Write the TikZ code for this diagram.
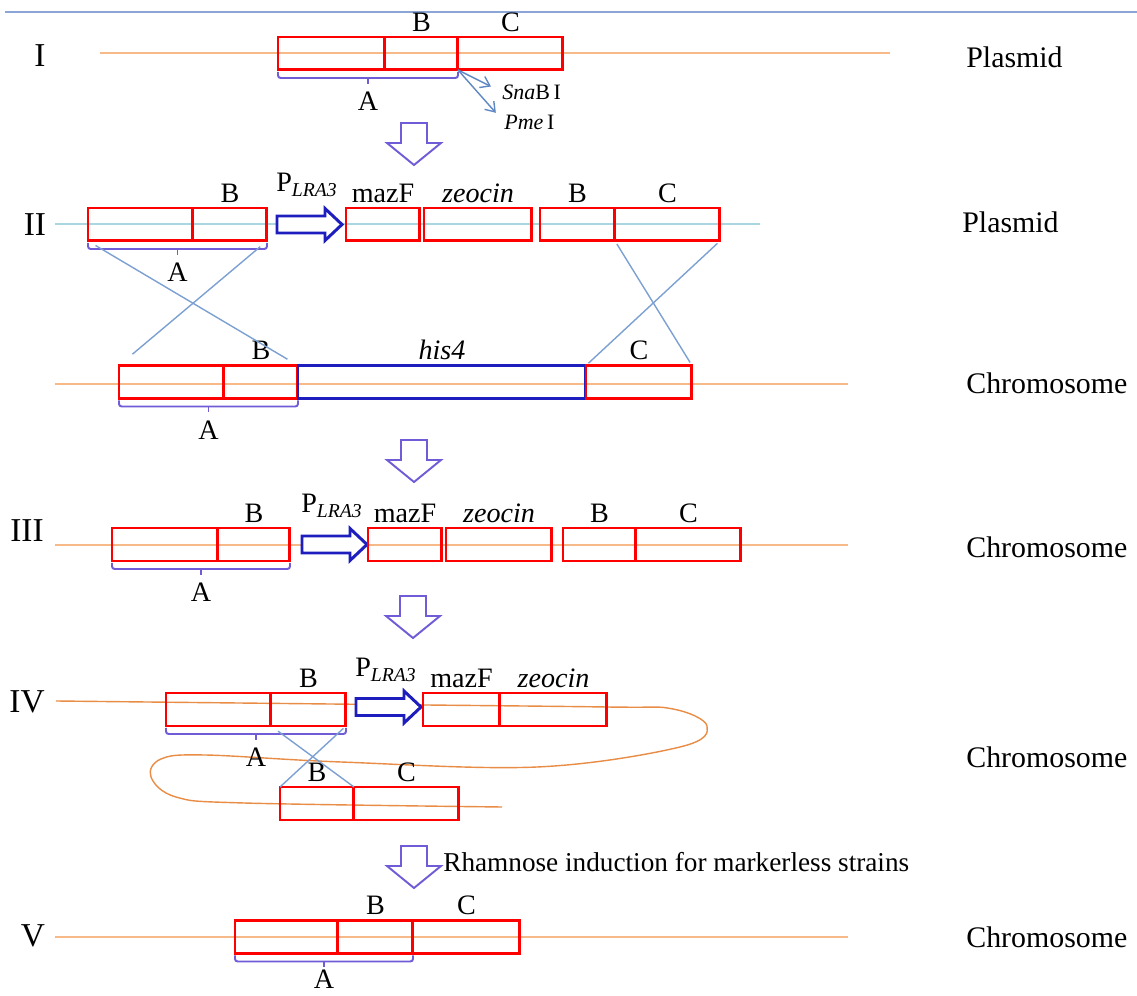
\documentclass[tikz,border=0pt]{standalone}
\usepackage{fontspec}
\setmainfont{Liberation Serif}
\usepackage{xcolor}
\usepackage{tikz}
\usetikzlibrary{arrows.meta,calc}
\definecolor{hisblue}{RGB}{30,30,190}
\definecolor{brkblue}{RGB}{112,92,215}
\definecolor{xblue}{RGB}{125,160,210}
\definecolor{arrblue}{RGB}{95,135,195}
\definecolor{lineorange}{RGB}{246,185,135}
\definecolor{looporange}{RGB}{232,140,70}
\definecolor{plasblue}{RGB}{170,214,224}
\definecolor{topblue}{RGB}{140,165,215}
\newcommand{\lab}{\fontsize{16}{18}\selectfont}
\newcommand{\tagfont}{\fontsize{17}{19}\selectfont}
\newcommand{\rowfont}{\fontsize{19}{21}\selectfont}
\tikzstyle{seg}=[draw=red, line width=1.7pt, inner sep=0pt, outer sep=0pt,% gene segment box
minimum height=0.66cm, anchor=west]
\tikzstyle{hisbox}=[seg, draw=hisblue]
\tikzstyle{brk}=[draw=brkblue, line width=1.1pt, rounded corners=1.5pt]
\tikzstyle{xline}=[draw=xblue, line width=0.8pt]
\tikzstyle{hollow}=[draw=brkblue, line width=1.1pt, fill=white]
\tikzstyle{prom}=[draw=hisblue, line width=1.7pt, fill=white]
\tikzstyle{chrom}=[draw=lineorange, line width=0.9pt]
\tikzstyle{rowno}=[font=\rowfont, inner sep=0pt]
\tikzstyle{tag}=[font=\tagfont, inner sep=0pt, anchor=west]
\tikzstyle{alab}=[font=\lab, inner sep=0pt]
\tikzstyle{site}=[font=\fontsize{12.5}{14}\selectfont, inner sep=0pt, anchor=west]
% hollow step arrow: top centre x, top y
\newcommand{\hollowdown}[2]{%
\draw[hollow] (#1-13,#2) -- (#1+13,#2) -- (#1+13,#2+20) -- (#1+27,#2+20) -- (#1,#2+42)
  -- (#1-27,#2+20) -- (#1-13,#2+20) -- cycle;}
% promoter arrow: left x, centre y
\newcommand{\promoter}[2]{%
\draw[prom] (#1,#2-8.5) -- (#1+48,#2-8.5) -- (#1+48,#2-16) -- (#1+65,#2) -- (#1+48,#2+16)
  -- (#1+48,#2+8.5) -- (#1,#2+8.5) -- cycle;}
% bracket under the A region
\newcommand{\spanA}[4]{%
\draw[brk] ($(#1.south west)+(0,2)$) |- ($(#2.south east)+(0,8)$) -- ($(#2.south east)+(0,2)$);
\draw[brk] ($(#1.south west)!.5!(#2.south east)+(0,8)$) -- ++(0,6) node[alab, below=#4] (#3) {A};}

\begin{document}
\begin{tikzpicture}[x=0.02cm, y=-0.02cm, every label/.style={font=\lab, inner sep=0pt}, label distance=3pt]
\useasboundingbox (0,0) rectangle (1137,996);

\draw[topblue, line width=1pt] (5,12) -- (1137,12);

% I
\node[rowno] (r1) at (40,56) {I};
\draw[chrom] (100,53) -- (890,53);
\node[seg, minimum width=2.14cm] (a1) at (278,53.5) {};
\node[seg, minimum width=1.46cm, label=above:B] (b1) at (385,53.5) {};
\node[seg, minimum width=2.10cm, label=above:C] (c1) at (458,53.5) {};
\spanA{a1}{b1}{A1}{4pt}
\node[site] (snab) at (502,92) {\textit{Sna}B\,I};
\node[site] (pme) at (504,122) {\textit{Pme}\,I};
\draw[arrblue, line width=0.8pt, -{Straight Barb[length=5pt,width=7pt]}, shorten >=7pt] (b1.south east) -- (snab.west);
\draw[arrblue, line width=0.8pt, -{Straight Barb[length=5pt,width=7pt]}, shorten >=7pt] (b1.south east) -- (pme.west);
\node[tag] (t1) at (966,57) {Plasmid};

\hollowdown{414}{123}

% II
\node[rowno] (r2) at (35,225) {II};
\draw[plasblue, line width=0.9pt] (55,224) -- (760,224);
\node[seg, minimum width=2.10cm] (a2) at (88,224.5) {};
\node[seg, minimum width=1.48cm, label=above:B] (b2) at (193,224.5) {};
\promoter{277}{224.5}
\node[alab] (p2) at (307,185) {P\textsubscript{\textit{LRA3}}};
\node[seg, minimum width=1.48cm, label=above:mazF] (m2) at (346,224.5) {};
\node[seg, minimum width=2.16cm, label={above:\textit{zeocin}}] (z2) at (424,224.5) {};
\node[seg, minimum width=1.50cm, label=above:B] (bb2) at (540,224.5) {};
\node[seg, minimum width=2.10cm, label=above:C] (cc2) at (615,224.5) {};
\spanA{a2}{b2}{A2}{4pt}
\node[tag] (t2) at (962,222) {Plasmid};

% his4 locus
\draw[chrom] (55,384) -- (848,384);
\node[seg, minimum width=2.10cm] (ah) at (119,382) {};
\node[seg, minimum width=1.48cm, label=above:B] (bh) at (224,382) {};
\node[hisbox, minimum width=5.76cm, label={above:\textit{his4}}] (hh) at (298,382) {};
\node[seg, minimum width=2.12cm, label=above:C] (ch) at (586,382) {};
\spanA{ah}{bh}{Ah}{4pt}
\node[tag] (th) at (966,383) {Chromosome};

\draw[xline, shorten <=5pt, shorten >=7pt] (a2.south west) -- (bh.north east);
\draw[xline, shorten <=5pt, shorten >=10pt] (b2.south east) -- (ah.north west);
\draw[xline, shorten <=2pt, shorten >=2pt] (cc2.south west) -- (ch.north east);
\draw[xline, shorten <=2pt, shorten >=2pt] (cc2.south east) -- (ch.north west);

\hollowdown{414}{440}

% III
\node[rowno] (r3) at (27,531) {III};
\draw[chrom] (55,545) -- (848,545);
\node[seg, minimum width=2.12cm] (a3) at (112,544.5) {};
\node[seg, minimum width=1.44cm, label=above:B] (b3) at (218,544.5) {};
\promoter{302}{544.5}
\node[alab] (p3) at (332,506) {P\textsubscript{\textit{LRA3}}};
\node[seg, minimum width=1.48cm, label=above:mazF] (m3) at (368,544.5) {};
\node[seg, minimum width=2.12cm, label={above:\textit{zeocin}}] (z3) at (446,544.5) {};
\node[seg, minimum width=1.46cm, label=above:B] (bb3) at (563,544.5) {};
\node[seg, minimum width=2.10cm, label=above:C] (cc3) at (636,544.5) {};
\spanA{a3}{b3}{A3}{4pt}
\node[tag] (t3) at (966,547) {Chromosome};

\hollowdown{413}{596}

% IV
\node[rowno] (r4) at (27,702) {IV};
\draw[looporange, line width=0.8pt] plot[smooth, tension=0.6] coordinates {(56,701) (330,704) (607,707)
  (673,709) (707,726) (680,747) (537,767) (341,762) (205,755) (161,759) (151,777)
  (176,797) (244,803) (502,807)};
\node[seg, minimum width=2.10cm] (a4) at (166,709.5) {};
\node[seg, minimum width=1.50cm, label=above:B] (b4) at (271,709.5) {};
\promoter{356}{707}
\node[alab] (p4) at (386,670) {P\textsubscript{\textit{LRA3}}};
\node[seg, minimum width=1.54cm, label=above:mazF] (m4) at (423,709.5) {};
\node[seg, minimum width=2.14cm, label={above:\textit{zeocin}}] (z4) at (500,709.5) {};
\node[seg, minimum width=1.48cm, label=above:B] (bl) at (280,803.5) {};
\node[seg, minimum width=2.10cm, label=above:C] (cl) at (354,803.5) {};
\spanA{a4}{b4}{A4}{4pt}
\draw[xline, shorten <=5pt] (a4.south east) -- (bl.north east);
\draw[xline, shorten <=2pt] (b4.south east) -- (bl.north west);
\node[tag] (t4) at (966,757) {Chromosome};

\hollowdown{414}{846}
\node[font=\fontsize{15.5}{17}\selectfont, inner sep=0pt, anchor=west] (rham) at (443,862) {Rhamnose induction for markerless strains};

% V
\node[rowno] (r5) at (33,936) {V};
\draw[chrom] (55,937) -- (848,937);
\node[seg, minimum width=2.06cm] (a5) at (235,937) {};
\node[seg, minimum width=1.50cm, label=above:B] (b5) at (338,937) {};
\node[seg, minimum width=2.14cm, label=above:C] (c5) at (413,937) {};
\spanA{a5}{b5}{A5}{1pt}
\node[tag] (t5) at (966,937) {Chromosome};

\end{tikzpicture}
\end{document}
